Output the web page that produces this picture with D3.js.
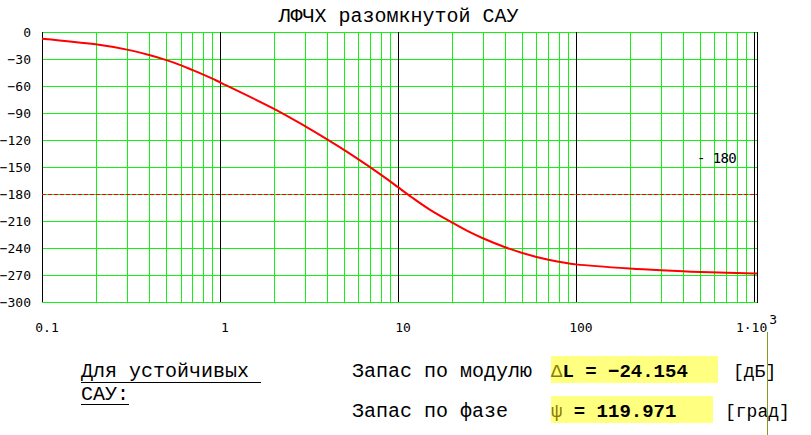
<!DOCTYPE html>
<html>
<head>
<meta charset="utf-8">
<script src="https://cdn.jsdelivr.net/npm/d3@7/dist/d3.min.js"></script>
<style>
  html, body { margin: 0; padding: 0; background: #fff; }
  svg { display: block; }
</style>
</head>
<body>
<script>
// ---- data ----
const freq  = [0.1,0.2,0.3,0.4,0.5,0.6,0.7,0.8,0.9,1,2,3,4,5,6,7,8,9,10,12,15,20,25,30,40,50,60,70,80,90,100,200,300,400,500,700,1000,1040];
const phase = [-7.4,-13.7,-19.6,-25.6,-31.3,-36.8,-42.2,-47,-51.5,-55.9,-85.1,-104.5,-119.2,-131.2,-141.5,-150.5,-158.5,-165.7,-172.4,-183.9,-197,-211.4,-221.9,-229.2,-239.2,-245.5,-249.9,-253,-255.3,-257,-258.2,-262.8,-264.8,-265.9,-266.7,-267.5,-268.2,-268.3];
const yTicks = [0,-30,-60,-90,-120,-150,-180,-210,-240,-270,-300];
const xTickValues = [0.1,1,10,100,1000];
const xTickLabels = ["0.1","1","10","100","1·10"];
const decades = [0.1,1,10,100];
const markerValue = -180;
const markerLabel = "- 180";
const title = "ЛФЧХ разомкнутой САУ";
const gainMarginLabel = "ΔL";
const gainMargin = "−24.154";
const phaseMarginLabel = "ψ";
const phaseMargin = "119.971";

const W = 811, H = 435;
const svg = d3.select("body").append("svg").attr("width", W).attr("height", H);

const x = d3.scaleLog().domain([0.1, 1040]).range([42, 757]);
const y = d3.scaleLinear().domain([-300, 0]).range([302, 32]);

const GREEN = "#14f014";
const px = v => Math.round(v) + 0.5;

// horizontal grid
svg.append("g").selectAll("line").data(yTicks).join("line")
  .attr("x1", x.range()[0]).attr("x2", x.range()[1])
  .attr("y1", d => px(y(d))).attr("y2", d => px(y(d)))
  .attr("stroke", GREEN).attr("stroke-width", 1).attr("shape-rendering", "crispEdges");

// vertical grid
const minor = [];
decades.forEach(d => { for (let k = 1; k <= 9; k++) minor.push({v: d * k, major: k === 1}); });
minor.push({v: 1000, major: true});
svg.append("g").selectAll("line").data(minor).join("line")
  .attr("x1", d => px(x(d.v))).attr("x2", d => px(x(d.v)))
  .attr("y1", y(0)).attr("y2", y(-300))
  .attr("stroke", d => d.major ? "#000" : GREEN)
  .attr("stroke-width", 1).attr("shape-rendering", "crispEdges");

// right border
svg.append("line")
  .attr("x1", px(x.range()[1])).attr("x2", px(x.range()[1]))
  .attr("y1", y(0)).attr("y2", y(-300) + 1)
  .attr("stroke", "#000").attr("stroke-width", 1).attr("shape-rendering", "crispEdges");

// -180 marker
svg.append("line")
  .attr("x1", x.range()[0]).attr("x2", x.range()[1])
  .attr("y1", px(y(markerValue))).attr("y2", px(y(markerValue)))
  .attr("stroke", "#ff0000").attr("stroke-width", 1)
  .attr("stroke-dasharray", "4,2").attr("shape-rendering", "crispEdges");

svg.append("text")
  .attr("x", 697).attr("y", y(markerValue) - 35)
  .attr("font-family", "DejaVu Sans Mono, monospace").attr("font-size", 14)
  .attr("letter-spacing", -0.6)
  .attr("dominant-baseline", "middle").attr("fill", "#000")
  .text(markerLabel);

// curve
const pts = freq.map((f, i) => [f, phase[i]]);
svg.append("path").datum(pts)
  .attr("fill", "none").attr("stroke", "#ff0000").attr("stroke-width", 2)
  .attr("d", d3.line().x(d => x(d[0])).y(d => y(d[1])).curve(d3.curveCatmullRom.alpha(0.5)));

// y tick labels
svg.append("g").selectAll("text").data(yTicks).join("text")
  .attr("x", 31).attr("y", d => y(d) + 1)
  .attr("text-anchor", "end").attr("dominant-baseline", "middle")
  .attr("font-family", "DejaVu Sans Mono, monospace").attr("font-size", 13)
  .text(d => d === 0 ? "0" : "−" + Math.abs(d));

// x tick labels
const xl = svg.append("g");
xTickValues.forEach((v, i) => {
  if (i < xTickValues.length - 1) {
    xl.append("text")
      .attr("x", x(v) + 5).attr("y", 332)
      .attr("text-anchor", "middle")
      .attr("font-family", "DejaVu Sans Mono, monospace").attr("font-size", 13)
      .text(xTickLabels[i]);
  } else {
    const t = xl.append("text")
      .attr("x", x(v) - 18).attr("y", 332)
      .attr("font-family", "DejaVu Sans Mono, monospace").attr("font-size", 13);
    t.append("tspan").text(xTickLabels[i]);
    t.append("tspan").attr("dx", 2).attr("dy", -8).attr("font-size", 13).text("3");
  }
});

// title
svg.append("text")
  .attr("x", 398.5).attr("y", 22).attr("text-anchor", "middle")
  .attr("font-family", "'Courier New', 'Liberation Mono', monospace").attr("font-size", 20)
  .text(title);

// bottom block
const mono = "'Courier New', 'Liberation Mono', monospace";
svg.append("text").attr("x", 81).attr("y", 377)
  .attr("font-family", mono).attr("font-size", 20).text("Для устойчивых");
svg.append("line").attr("x1", 81).attr("x2", 261).attr("y1", 382.5).attr("y2", 382.5)
  .attr("stroke", "#000").attr("stroke-width", 1);
svg.append("text").attr("x", 81).attr("y", 400)
  .attr("font-family", mono).attr("font-size", 20).text("САУ:");
svg.append("line").attr("x1", 81).attr("x2", 129).attr("y1", 404.5).attr("y2", 404.5)
  .attr("stroke", "#000").attr("stroke-width", 1);

svg.append("text").attr("x", 352).attr("y", 377)
  .attr("font-family", mono).attr("font-size", 20).text("Запас по модулю");
svg.append("text").attr("x", 352).attr("y", 417)
  .attr("font-family", mono).attr("font-size", 20).text("Запас по фазе");

// yellow boxes
svg.append("rect").attr("x", 551).attr("y", 356).attr("width", 167).attr("height", 27).attr("fill", "#ffff80");
svg.append("rect").attr("x", 551).attr("y", 396).attr("width", 162).attr("height", 27).attr("fill", "#ffff80");

const t1 = svg.append("text").attr("x", 551).attr("y", 377)
  .attr("font-family", mono).attr("font-size", 19).attr("font-weight", "bold");
t1.append("tspan").attr("fill", "#8a7a00").attr("font-weight", "normal").text(gainMarginLabel[0]);
t1.append("tspan").attr("fill", "#000").text(gainMarginLabel.slice(1) + " = " + gainMargin);

const t2 = svg.append("text").attr("x", 551).attr("y", 417)
  .attr("font-family", mono).attr("font-size", 19).attr("font-weight", "bold");
t2.append("tspan").attr("fill", "#8a7a00").attr("font-weight", "normal").text(phaseMarginLabel);
t2.append("tspan").attr("fill", "#000").text(" = " + phaseMargin);

svg.append("text").attr("x", 733).attr("y", 377)
  .attr("font-family", mono).attr("font-size", 18).text("[дБ]");
svg.append("text").attr("x", 725).attr("y", 417)
  .attr("font-family", mono).attr("font-size", 18).text("[град]");

// olive cursor line
svg.append("line").attr("x1", 767.5).attr("x2", 767.5).attr("y1", 332).attr("y2", 435)
  .attr("stroke", "#8a9a20").attr("stroke-width", 1);
</script>
</body>
</html>
